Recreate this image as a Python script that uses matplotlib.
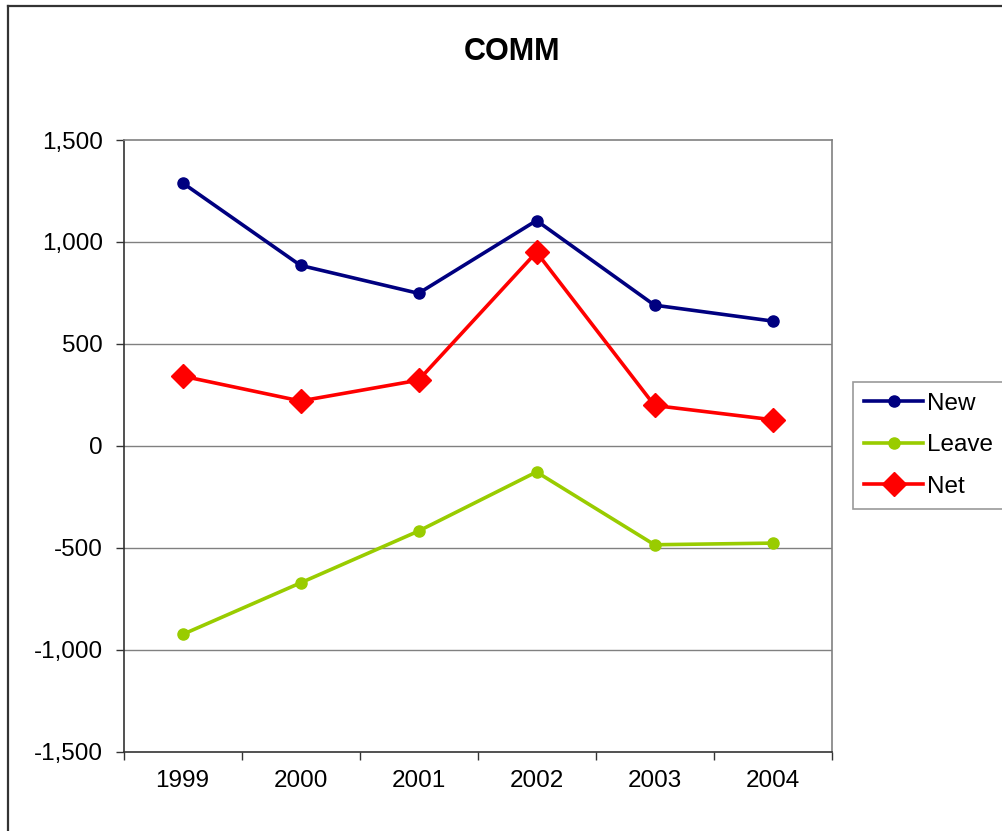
import matplotlib.pyplot as plt
from matplotlib.lines import Line2D
from matplotlib.ticker import FuncFormatter, FixedLocator

plt.rcParams["font.family"] = ["Liberation Sans", "DejaVu Sans"]

YEARS = ["1999", "2000", "2001", "2002", "2003", "2004"]
NEW = [1290, 885, 748, 1105, 690, 612]
LEAVE = [-925, -672, -418, -128, -485, -477]
NET = [342, 220, 322, 950, 198, 128]

Y_TICKS = [-1500, -1000, -500, 0, 500, 1000, 1500]

fig = plt.figure(figsize=(10.02, 8.31), dpi=100)
ax = fig.add_axes([123.5 / 1002, 1 - 751.7 / 831, 708 / 1002, 611.7 / 831])

x = list(range(len(YEARS)))
ax.plot(x, NEW, color="#000080", linewidth=2.6, marker="o", markersize=8, label="New")
ax.plot(x, LEAVE, color="#99CC00", linewidth=2.6, marker="o", markersize=8, label="Leave")
ax.plot(x, NET, color="#FF0000", linewidth=2.6, marker="D", markersize=12.5, label="Net")

ax.set_xlim(-0.5, len(YEARS) - 0.5)
ax.set_ylim(-1500, 1500)

# category boundaries get the tick marks, centres get the labels
ax.xaxis.set_major_locator(FixedLocator([i - 0.5 for i in range(len(YEARS) + 1)]))
ax.xaxis.set_minor_locator(FixedLocator(x))
ax.set_xticklabels([], minor=False)
ax.set_xticks(x, YEARS, minor=True)
ax.tick_params(axis="x", which="major", direction="out", length=6, width=1, color="#333333")
ax.tick_params(axis="x", which="minor", length=0, pad=13, labelsize=17.5)

ax.set_yticks(Y_TICKS)
ax.yaxis.set_major_formatter(FuncFormatter(lambda v, _: f"{int(v):,}"))
ax.tick_params(axis="y", direction="out", length=6, width=1, color="#333333", pad=9, labelsize=17.5)

for y in Y_TICKS[1:-1]:
    ax.axhline(y, color="#808080", linewidth=1, zorder=0)

ax.spines["left"].set_color("#333333")
ax.spines["bottom"].set_color("#333333")
ax.spines["top"].set_color("#808080")
ax.spines["right"].set_color("#808080")
for s in ax.spines.values():
    s.set_linewidth(1.2)

fig.text(512 / 1002, 1 - 52 / 831, "COMM", ha="center", va="center",
         fontsize=22, fontweight="bold")

leg = ax.legend(loc="upper left", bbox_to_anchor=(853 / 1002, 1 - 382 / 831),
                bbox_transform=fig.transFigure, fontsize=17.5, frameon=True,
                fancybox=False, edgecolor="#808080", handlelength=2.45,
                handletextpad=0.15, labelspacing=0.8, borderpad=0.45,
                borderaxespad=0)
leg.get_frame().set_linewidth(1.2)

# outer chart border (left and top edges are visible in the crop)
fig.add_artist(Line2D([8 / 1002, 8 / 1002], [0, 1 - 6 / 831], transform=fig.transFigure,
                      color="#333333", linewidth=1.6))
fig.add_artist(Line2D([8 / 1002, 1], [1 - 6 / 831, 1 - 6 / 831], transform=fig.transFigure,
                      color="#333333", linewidth=1.6))

fig.savefig("out.png", dpi=100)
